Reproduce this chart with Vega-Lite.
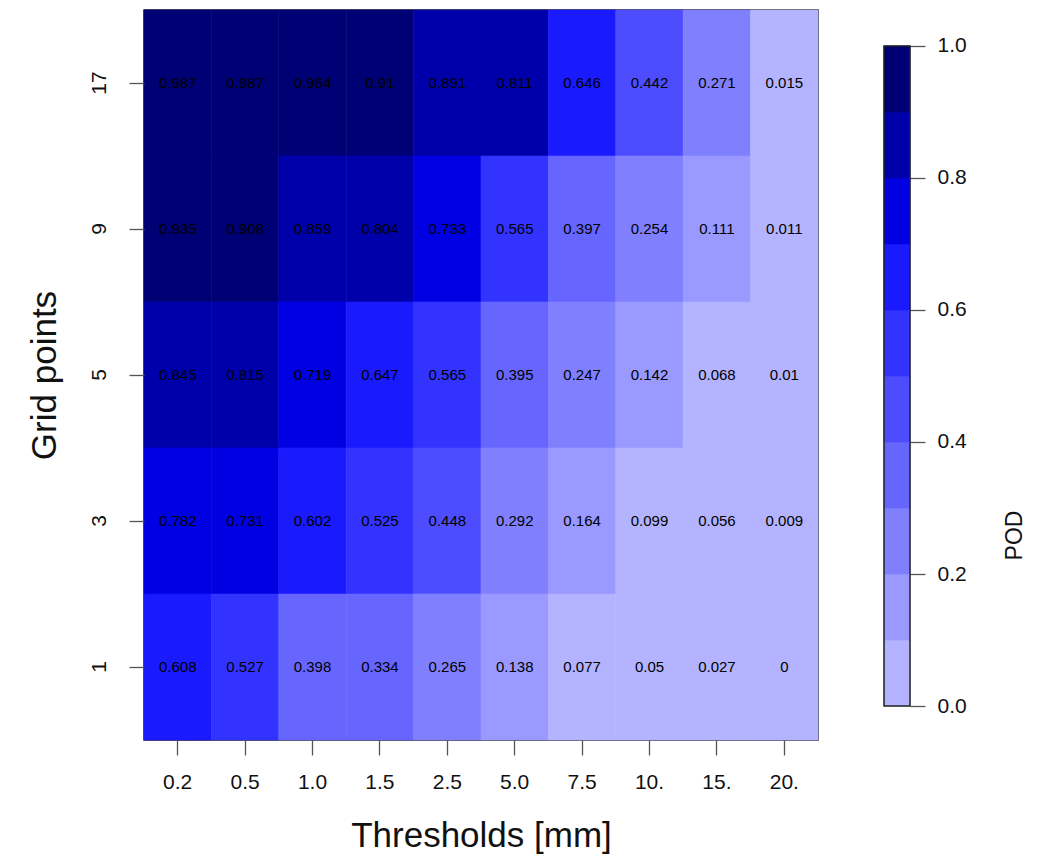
{
  "$schema": "https://vega.github.io/schema/vega-lite/v6.json",
  "background": "white",
  "padding": {"left": 26, "top": 8, "right": 5, "bottom": 5},
  "bounds": "flush",
  "spacing": 66,
  "config": {
    "font": "Liberation Sans",
    "view": {"stroke": "#222", "strokeWidth": 1.5},
    "axis": {
      "domain": false, "grid": false, "tickSize": 15, "tickColor": "#555", "tickWidth": 1.3,
      "labelFontSize": 21, "labelColor": "#111", "labelFont": "Liberation Sans",
      "titleFont": "Liberation Sans", "titleFontWeight": "normal", "titleColor": "#111"
    }
  },
  "hconcat": [
    {
      "width": 674,
      "height": 730,
      "data": {"values": [
        {"thr": "0.2", "grid": 17, "pod": 0.987}, {"thr": "0.5", "grid": 17, "pod": 0.987}, {"thr": "1.0", "grid": 17, "pod": 0.964}, {"thr": "1.5", "grid": 17, "pod": 0.91}, {"thr": "2.5", "grid": 17, "pod": 0.891}, {"thr": "5.0", "grid": 17, "pod": 0.811}, {"thr": "7.5", "grid": 17, "pod": 0.646}, {"thr": "10.", "grid": 17, "pod": 0.442}, {"thr": "15.", "grid": 17, "pod": 0.271}, {"thr": "20.", "grid": 17, "pod": 0.015},
        {"thr": "0.2", "grid": 9, "pod": 0.935}, {"thr": "0.5", "grid": 9, "pod": 0.908}, {"thr": "1.0", "grid": 9, "pod": 0.859}, {"thr": "1.5", "grid": 9, "pod": 0.804}, {"thr": "2.5", "grid": 9, "pod": 0.733}, {"thr": "5.0", "grid": 9, "pod": 0.565}, {"thr": "7.5", "grid": 9, "pod": 0.397}, {"thr": "10.", "grid": 9, "pod": 0.254}, {"thr": "15.", "grid": 9, "pod": 0.111}, {"thr": "20.", "grid": 9, "pod": 0.011},
        {"thr": "0.2", "grid": 5, "pod": 0.845}, {"thr": "0.5", "grid": 5, "pod": 0.815}, {"thr": "1.0", "grid": 5, "pod": 0.719}, {"thr": "1.5", "grid": 5, "pod": 0.647}, {"thr": "2.5", "grid": 5, "pod": 0.565}, {"thr": "5.0", "grid": 5, "pod": 0.395}, {"thr": "7.5", "grid": 5, "pod": 0.247}, {"thr": "10.", "grid": 5, "pod": 0.142}, {"thr": "15.", "grid": 5, "pod": 0.068}, {"thr": "20.", "grid": 5, "pod": 0.01},
        {"thr": "0.2", "grid": 3, "pod": 0.782}, {"thr": "0.5", "grid": 3, "pod": 0.731}, {"thr": "1.0", "grid": 3, "pod": 0.602}, {"thr": "1.5", "grid": 3, "pod": 0.525}, {"thr": "2.5", "grid": 3, "pod": 0.448}, {"thr": "5.0", "grid": 3, "pod": 0.292}, {"thr": "7.5", "grid": 3, "pod": 0.164}, {"thr": "10.", "grid": 3, "pod": 0.099}, {"thr": "15.", "grid": 3, "pod": 0.056}, {"thr": "20.", "grid": 3, "pod": 0.009},
        {"thr": "0.2", "grid": 1, "pod": 0.608}, {"thr": "0.5", "grid": 1, "pod": 0.527}, {"thr": "1.0", "grid": 1, "pod": 0.398}, {"thr": "1.5", "grid": 1, "pod": 0.334}, {"thr": "2.5", "grid": 1, "pod": 0.265}, {"thr": "5.0", "grid": 1, "pod": 0.138}, {"thr": "7.5", "grid": 1, "pod": 0.077}, {"thr": "10.", "grid": 1, "pod": 0.05}, {"thr": "15.", "grid": 1, "pod": 0.027}, {"thr": "20.", "grid": 1, "pod": 0}
      ]},
      "encoding": {
        "x": {
          "field": "thr", "type": "nominal",
          "sort": ["0.2", "0.5", "1.0", "1.5", "2.5", "5.0", "7.5", "10.", "15.", "20."],
          "scale": {"paddingInner": 0, "paddingOuter": 0},
          "axis": {"title": "Thresholds [mm]", "labelAngle": 0, "labelPadding": 16, "titleFontSize": 35, "titlePadding": 26}
        },
        "y": {
          "field": "grid", "type": "ordinal", "sort": "descending",
          "scale": {"paddingInner": 0, "paddingOuter": 0},
          "axis": {"title": "Grid points", "labelAngle": 270, "labelPadding": 20, "titleFontSize": 35, "titlePadding": 26}
        }
      },
      "layer": [
        {
          "mark": {"type": "rect", "strokeWidth": 0.6},
          "encoding": {
            "color": {
              "field": "pod", "type": "quantitative",
              "scale": {"type": "threshold", "domain": [0.1, 0.2, 0.3, 0.4, 0.5, 0.6, 0.7, 0.8, 0.9],
                "range": ["#B3B3FF", "#9999FF", "#8080FF", "#6666FF", "#4D4DFF", "#3333FF", "#1A1AFF", "#0000E2", "#0000AA", "#000075"]},
              "legend": null
            },
            "stroke": {
              "field": "pod", "type": "quantitative",
              "scale": {"type": "threshold", "domain": [0.1, 0.2, 0.3, 0.4, 0.5, 0.6, 0.7, 0.8, 0.9],
                "range": ["#B3B3FF", "#9999FF", "#8080FF", "#6666FF", "#4D4DFF", "#3333FF", "#1A1AFF", "#0000E2", "#0000AA", "#000075"]},
              "legend": null
            }
          }
        },
        {
          "mark": {"type": "text", "fontSize": 15, "color": "#000", "font": "Liberation Sans", "baseline": "middle"},
          "encoding": {"text": {"field": "pod", "type": "quantitative"}}
        }
      ]
    },
    {
      "width": 26,
      "height": 730,
      "view": {"stroke": null},
      "data": {"values": [
        {"lo": 0.0, "hi": 0.1}, {"lo": 0.1, "hi": 0.2}, {"lo": 0.2, "hi": 0.3}, {"lo": 0.3, "hi": 0.4}, {"lo": 0.4, "hi": 0.5},
        {"lo": 0.5, "hi": 0.6}, {"lo": 0.6, "hi": 0.7}, {"lo": 0.7, "hi": 0.8}, {"lo": 0.8, "hi": 0.9}, {"lo": 0.9, "hi": 1.0}
      ]},
      "encoding": {
        "y": {
          "field": "lo", "type": "quantitative",
          "scale": {"domain": [-0.0515, 1.0545], "nice": false, "zero": false},
          "axis": {"orient": "right", "values": [0, 0.2, 0.4, 0.6, 0.8, 1.0], "format": ".1f", "labelPadding": 12,
            "title": "POD", "titleFontSize": 23, "titleAngle": 270, "titleX": 104, "titleY": 525, "titleAlign": "center", "titleBaseline": "middle"}
        },
        "y2": {"field": "hi"}
      },
      "layer": [
        {
          "mark": {"type": "rect", "strokeWidth": 0.6},
          "encoding": {
            "color": {
              "field": "lo", "type": "quantitative",
              "scale": {"type": "threshold", "domain": [0.1, 0.2, 0.3, 0.4, 0.5, 0.6, 0.7, 0.8, 0.9],
                "range": ["#B3B3FF", "#9999FF", "#8080FF", "#6666FF", "#4D4DFF", "#3333FF", "#1A1AFF", "#0000E2", "#0000AA", "#000075"]},
              "legend": null
            },
            "stroke": {
              "field": "lo", "type": "quantitative",
              "scale": {"type": "threshold", "domain": [0.1, 0.2, 0.3, 0.4, 0.5, 0.6, 0.7, 0.8, 0.9],
                "range": ["#B3B3FF", "#9999FF", "#8080FF", "#6666FF", "#4D4DFF", "#3333FF", "#1A1AFF", "#0000E2", "#0000AA", "#000075"]},
              "legend": null
            }
          }
        },
        {
          "data": {"values": [{"lo": 0, "hi": 1}]},
          "mark": {"type": "rect", "filled": false, "stroke": "#222", "strokeWidth": 1.5}
        }
      ]
    }
  ]
}
